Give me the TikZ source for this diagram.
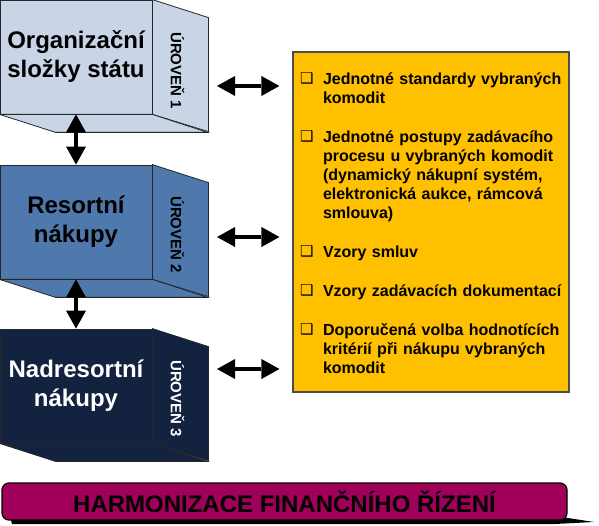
\documentclass[tikz,border=0pt]{standalone}
\usepackage{fontspec}
\setmainfont{Liberation Sans}
\newfontfamily\dingfont{DejaVu Sans}
\usetikzlibrary{arrows.meta, positioning}

\definecolor{lvlA}{HTML}{C9D5E6}
\definecolor{lvlB}{HTML}{4F79AD}
\definecolor{lvlC}{HTML}{12223F}
\definecolor{listfill}{HTML}{FFC000}
\definecolor{harmfill}{HTML}{A0005A}

\newcommand{\sqitem}[1]{\par\noindent\makebox[23pt][l]{\raisebox{0.5pt}{\dingfont\fontsize{15}{15}\selectfont ❑}}\parbox[t]{239pt}{\raggedright\strut #1\strut}\par}

\begin{document}
\begin{tikzpicture}[
  x=1pt, y=-1pt,
  front/.style={draw=black!85, line width=0.8pt, minimum width=152pt, minimum height=114pt, inner sep=0pt, align=center, font=\bfseries\fontsize{24}{29}\selectfont},
  face/.style={draw=black!85, line width=0.8pt},
  level/.style={rotate=-90, inner sep=0pt, font=\bfseries\fontsize{15}{18}\selectfont},
  link/.style={{Triangle[length=18pt,width=20pt,line width=0pt]}-{Triangle[length=18pt,width=20pt,line width=0pt]}, line width=4pt},
]
\useasboundingbox (0,0) rectangle (599,526);

% --- Level 1: Organizacni slozky statu ---
\node[front, fill=lvlA] (org) at (76,57) {Organizační\\složky státu};
\filldraw[face, fill=lvlA] (org.north east) -- ++(56,18) -- ++(0,114) -- (org.south east) -- cycle;
\filldraw[face, fill=lvlA] (org.south west) -- ++(56,18) -- ++(152,0) -- (org.south east) -- cycle;
\node[level] (org-l) at ([xshift=25pt, yshift=-71pt]org.north east) {ÚROVEŇ 1};

% --- Level 2: Resortni nakupy ---
\node[front, fill=lvlB] (res) at (76,222) {Resortní\\nákupy};
\filldraw[face, fill=lvlB] (res.north east) -- ++(56,18) -- ++(0,114) -- (res.south east) -- cycle;
\filldraw[face, fill=lvlB] (res.south west) -- ++(56,18) -- ++(152,0) -- (res.south east) -- cycle;
\node[level] (res-l) at ([xshift=25pt, yshift=-70pt]res.north east) {ÚROVEŇ 2};

% --- Level 3: Nadresortni nakupy ---
\node[front, fill=lvlC, text=white] (nad) at (76,386) {Nadresortní\\nákupy};
\filldraw[face, fill=lvlC] (nad.north east) -- ++(56,18) -- ++(0,114) -- (nad.south east) -- cycle;
\filldraw[face, fill=lvlC] (nad.south west) -- ++(56,18) -- ++(152,0) -- (nad.south east) -- cycle;
\node[level, text=white] (nad-l) at ([xshift=25pt, yshift=-70pt]nad.north east) {ÚROVEŇ 3};

% Arrows between levels
\draw[link] (org.south) -- (res.north);
\draw[link] (res.south) -- (nad.north);

% --- List of harmonised items ---
\node[draw=black!70, line width=1.2pt, fill=listfill, minimum width=276pt, minimum height=340pt, inner sep=0pt,
  text width=262pt, align=left, font=\bfseries\fontsize{16}{19}\selectfont] (list) at (431,222) {%
  \lineskip=0pt%
  \sqitem{Jednotné standardy vybraných\\komodit}%
  \setlength{\parskip}{20pt}%
  \sqitem{Jednotné postupy zadávacího\\procesu u vybraných komodit\\(dynamický nákupní systém,\\elektronická aukce, rámcová\\smlouva)}
  \sqitem{Vzory smluv}
  \sqitem{Vzory zadávacích dokumentací}
  \sqitem{Doporučená volba hodnotících\\kritérií při nákupu vybraných\\komodit}};

% Arrows from levels to the list
\coordinate (org-e) at (208,86);
\coordinate (res-e) at (208,237);
\coordinate (nad-e) at (208,369);
\draw[link, shorten <=9pt, shorten >=13pt] (org-e) -- (org-e -| list.west);
\draw[link, shorten <=9pt, shorten >=13pt] (res-e) -- (res-e -| list.west);
\draw[link, shorten <=9pt, shorten >=13pt] (nad-e) -- (nad-e -| list.west);

% --- Bottom bar ---
\fill[black] (10,516) -- (555,516) -- (594,522) -- (555,524) -- (12,524) -- cycle;
\node[draw=black, line width=1.2pt, fill=harmfill, rounded corners=7pt, minimum width=565pt, minimum height=37pt,
  font=\bfseries\fontsize{24}{29}\selectfont] (harm) at (284.5,501.5) {HARMONIZACE FINANČNÍHO ŘÍZENÍ};

\end{tikzpicture}
\end{document}
